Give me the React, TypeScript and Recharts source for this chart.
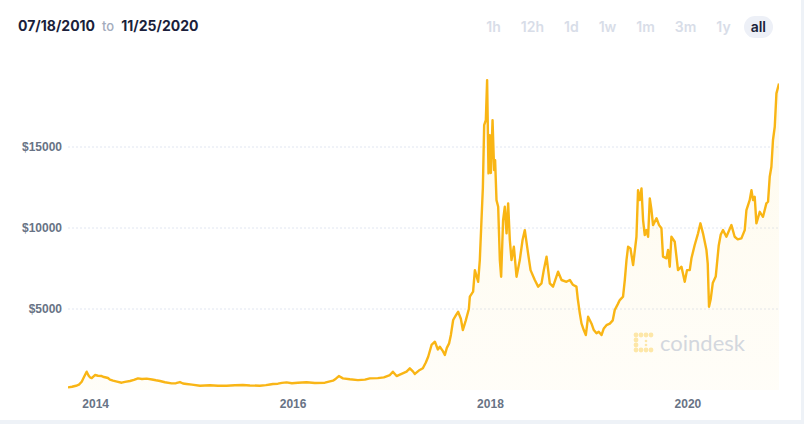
import { Area, AreaChart, CartesianGrid, XAxis, YAxis } from "recharts";

// decimal years and closing price (USD)
const years = [
  2013.72, 2013.761, 2013.801, 2013.831, 2013.859, 2013.882, 2013.909, 2013.928, 2013.943, 2013.96,
  2013.993, 2014.024, 2014.061, 2014.085, 2014.125, 2014.145, 2014.176, 2014.216, 2014.264, 2014.297,
  2014.348, 2014.388, 2014.429, 2014.469, 2014.517, 2014.571, 2014.611, 2014.652, 2014.702, 2014.77,
  2014.814, 2014.854, 2014.885, 2014.922, 2014.976, 2015.057, 2015.107, 2015.158, 2015.239, 2015.327,
  2015.411, 2015.492, 2015.563, 2015.664, 2015.725, 2015.766, 2015.796, 2015.847, 2015.887, 2015.935,
  2015.988, 2016.049, 2016.137, 2016.221, 2016.323, 2016.404, 2016.434, 2016.464, 2016.505, 2016.576,
  2016.657, 2016.728, 2016.778, 2016.859, 2016.92, 2016.981, 2017.011, 2017.049, 2017.082, 2017.15,
  2017.183, 2017.214, 2017.234, 2017.274, 2017.315, 2017.345, 2017.369, 2017.403, 2017.437, 2017.467,
  2017.487, 2017.518, 2017.538, 2017.558, 2017.581, 2017.599, 2017.622, 2017.649, 2017.672, 2017.7,
  2017.72, 2017.75, 2017.781, 2017.791, 2017.824, 2017.842, 2017.875, 2017.892, 2017.909, 2017.923,
  2017.936, 2017.953, 2017.966, 2017.98, 2017.993, 2018.004, 2018.021, 2018.037, 2018.047, 2018.061,
  2018.078, 2018.095, 2018.108, 2018.128, 2018.145, 2018.163, 2018.179, 2018.196, 2018.213, 2018.237,
  2018.264, 2018.297, 2018.325, 2018.348, 2018.381, 2018.406, 2018.449, 2018.483, 2018.517, 2018.54,
  2018.568, 2018.601, 2018.634, 2018.685, 2018.72, 2018.77, 2018.804, 2018.834, 2018.871, 2018.885,
  2018.905, 2018.922, 2018.945, 2018.966, 2018.989, 2019.023, 2019.047, 2019.074, 2019.097, 2019.125,
  2019.148, 2019.175, 2019.209, 2019.239, 2019.259, 2019.29, 2019.31, 2019.343, 2019.361, 2019.378,
  2019.394, 2019.418, 2019.445, 2019.479, 2019.495, 2019.512, 2019.53, 2019.546, 2019.563, 2019.58,
  2019.597, 2019.614, 2019.631, 2019.647, 2019.682, 2019.708, 2019.732, 2019.748, 2019.783, 2019.799,
  2019.816, 2019.833, 2019.867, 2019.9, 2019.935, 2019.968, 2019.991, 2020.019, 2020.036, 2020.069,
  2020.103, 2020.127, 2020.153, 2020.188, 2020.201, 2020.214, 2020.231, 2020.252, 2020.282, 2020.312,
  2020.333, 2020.356, 2020.39, 2020.441, 2020.474, 2020.505, 2020.542, 2020.576, 2020.593, 2020.626,
  2020.644, 2020.66, 2020.677, 2020.694, 2020.728, 2020.761, 2020.795, 2020.812, 2020.829, 2020.846,
  2020.862, 2020.88, 2020.897, 2020.923,
];

const prices = [
  160, 200, 260, 330, 510, 800, 1130, 900, 780, 740,
  925, 880, 860, 800, 740, 640, 575, 520, 450, 500,
  555, 620, 720, 680, 700, 650, 600, 555, 480, 410,
  420, 490, 400, 370, 330, 265, 280, 290, 260, 265,
  290, 310, 280, 265, 300, 340, 370, 390, 440, 470,
  420, 450, 480, 430, 450, 575, 700, 860, 720, 660,
  610, 640, 720, 730, 780, 925, 1130, 860, 950, 1130,
  1340, 1150, 990, 1200, 1340, 1700, 2055, 2780, 2980, 2500,
  2670, 2400, 2160, 2600, 2880, 3400, 4320, 4600, 4830, 4400,
  3700, 4300, 5000, 5760, 6070, 7400, 6680, 8020, 10490, 12500,
  16350, 16660, 19130, 13370, 15730, 13390, 16660, 13570, 14190, 11720,
  11310, 8020, 6990, 10490, 11310, 9670, 11520, 9260, 8020, 8840,
  6990, 8020, 9260, 9870, 8430, 7400, 6790, 6380, 6580, 7400,
  8230, 6580, 6380, 7300, 6790, 6680, 6790, 6500, 6380, 5600,
  4730, 4110, 3700, 3390, 4520, 4110, 3700, 3500, 3600, 3390,
  3800, 4000, 4100, 4300, 4940, 5300, 5550, 5760, 6790, 8020,
  8840, 8740, 7710, 9460, 12340, 11720, 12440, 10490, 9560, 9870,
  9460, 11830, 11110, 10180, 10600, 10180, 9980, 8230, 8130, 8640,
  7610, 9460, 9150, 7400, 7610, 6680, 7400, 7400, 8130, 8950,
  9670, 10290, 9670, 8640, 7800, 5140, 5600, 6600, 7000, 8900,
  9600, 9870, 9460, 10180, 9460, 9300, 9360, 9870, 11110, 11720,
  12340, 11720, 11930, 10290, 11000, 10690, 11520, 11620, 13160, 13780,
  15430, 16250, 18310, 18920,
];

const yearTicks = [2014, 2016, 2018, 2020];
const priceTicks = [5000, 10000, 15000];
const ranges = ["1h", "12h", "1d", "1w", "1m", "3m", "1y", "all"];
const fromDate = "07/18/2010";
const toDate = "11/25/2020";

const data = years.map((t, i) => ({ t, price: prices[i] }));

const labelTick = { fill: "#687385", fontSize: 12, fontWeight: 700, fontFamily: "Liberation Sans, Arial, sans-serif" };

function CoindeskMark() {
  const dots = [
    [3, 3], [8, 3], [13, 3], [18, 3],
    [3, 8], [3, 13],
    [3, 18], [8, 18], [13, 18], [18, 18],
    [13, 9], [13, 13],
  ];
  return (
    <div
      style={{
        position: "absolute",
        left: 633,
        top: 330,
        display: "flex",
        alignItems: "center",
        pointerEvents: "none",
      }}
    >
      <svg width={22} height={22}>
        {dots.map(([cx, cy], i) => (
          <circle key={i} cx={cx} cy={cy} r={i > 9 ? 1.3 : 2.4} fill="#fde7a8" />
        ))}
      </svg>
      <span
        style={{
          marginLeft: 5,
          fontFamily: "Lato, sans-serif",
          fontSize: 22,
          color: "#d3d7de",
          lineHeight: "26px",
        }}
      >
        coindesk
      </span>
    </div>
  );
}

export default function App() {
  return (
    <div
      style={{
        position: "absolute",
        left: 0,
        top: 0,
        width: 804,
        height: 424,
        background: "#eef2f7",
        overflow: "hidden",
      }}
    >
      <div style={{ position: "absolute", left: 0, top: 0, width: 801, height: 420, background: "#fff" }}>
        <div
          style={{
            position: "absolute",
            left: 18,
            top: 16,
            lineHeight: "20px",
            fontFamily: "Inter, sans-serif",
            fontSize: 14,
            fontWeight: 700,
            color: "#1b1f3b",
            whiteSpace: "nowrap",
          }}
        >
          {fromDate}
          <span style={{ margin: "0 7px", fontSize: 13, fontWeight: 500, color: "#a3acbd" }}>to</span>
          {toDate}
        </div>

        <div
          style={{
            position: "absolute",
            right: 28,
            top: 16,
            display: "flex",
            gap: 6,
            fontFamily: "Inter, sans-serif",
            fontSize: 14,
            fontWeight: 600,
          }}
        >
          {ranges.map((r) => (
            <div
              key={r}
              style={{
                padding: "0 7px",
                height: 22,
                lineHeight: "22px",
                borderRadius: 11,
                color: r === "all" ? "#1b1f3b" : "#d8dde8",
                background: r === "all" ? "#edf0f7" : "transparent",
              }}
            >
              {r}
            </div>
          ))}
        </div>

        <div style={{ position: "absolute", left: 0, top: 0 }}>
          <AreaChart width={804} height={424} data={data} margin={{ top: 66, right: 25, bottom: 0, left: 0 }}>
            <defs>
              <linearGradient id="btc-fill" x1="0" y1="0" x2="0" y2="1">
                <stop offset="0%" stopColor="#fbd96b" stopOpacity={0.2} />
                <stop offset="100%" stopColor="#fbd96b" stopOpacity={0.08} />
              </linearGradient>
            </defs>
            <CartesianGrid
              vertical={false}
              horizontalValues={priceTicks}
              stroke="#e1e6f1"
              strokeDasharray="2 2"
            />
            <XAxis
              dataKey="t"
              type="number"
              domain={[2013.72, 2020.923]}
              ticks={yearTicks}
              allowDataOverflow
              axisLine={false}
              tickLine={false}
              tickSize={0}
              tickMargin={9}
              height={34}
              tick={labelTick}
              tickFormatter={(v: number) => String(v)}
            />
            <YAxis
              domain={[0, 20000]}
              ticks={priceTicks}
              axisLine={false}
              tickLine={false}
              tickSize={0}
              tickMargin={6}
              width={68}
              tick={labelTick}
              tickFormatter={(v: number) => `$${v}`}
            />
            <Area
              type="linear"
              dataKey="price"
              stroke="#f9b514"
              strokeWidth={2.4}
              strokeLinejoin="round"
              fill="url(#btc-fill)"
              dot={false}
              activeDot={false}
              isAnimationActive={false}
            />
          </AreaChart>
        </div>

        <CoindeskMark />
      </div>
    </div>
  );
}
